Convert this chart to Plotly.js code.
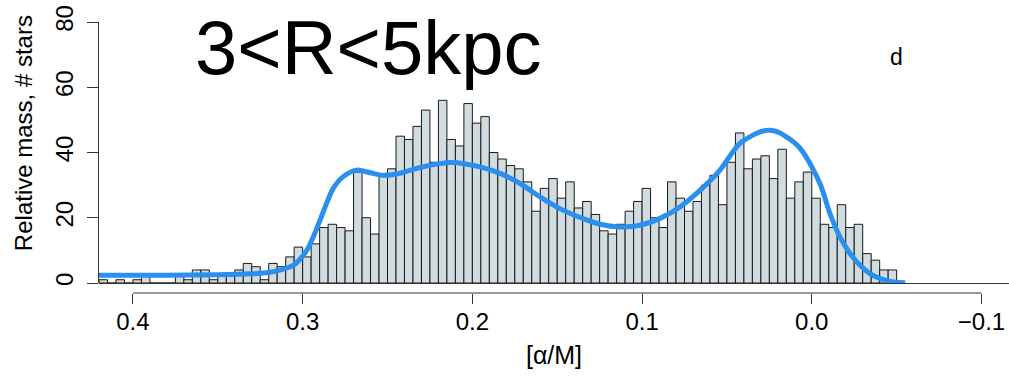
<!DOCTYPE html>
<html>
<head>
<meta charset="utf-8">
<script src="https://cdn.plot.ly/plotly-3.0.1.min.js"></script>
<style>html,body{margin:0;padding:0;background:#fff;}#chart{width:1009px;height:379px;}</style>
</head>
<body>
<div id="chart"></div>
<script>
// Histogram bins: first bin starts at 0.42 and bins go toward lower [α/M]
const binStart = 0.42;
const binWidth = 0.005;
const binHeights = [1,0,1,0,1,2,0,0,0,2,1,4,4,1,2,2,4,6,5,1,6,
  5,8,11,8,12,17,18,17,16,34,20,15,33,35,45,44,48,53,37,56,44,42,55,49,51,40,38,36,35,31,22,29,32,26,31,23,25,21,16,15,18,22,25,29,20,
  17,31,26,22,25,30,33,24,37,46,35,38,39,32,41,26,31,34,26,18,17,24,17,18,9,7,4,4];

// Smooth density curve (blue)
const curveX = [0.42,0.38,0.35,0.33,0.32,0.313,0.305,0.2976,0.2937,0.2898,0.2859,0.282,0.2761,0.2682,0.2603,0.2525,0.2446,0.2309,0.2132,0.2034,0.1955,0.1837,0.1719,0.1602,0.1484,0.1366,0.1248,0.1131,0.1013,0.0894,0.0777,0.0659,0.0541,0.0424,0.0305,0.0246,0.0187,0.0069,-0.0048,-0.0106,-0.0165,-0.0224,-0.0283,-0.0342,-0.0401,-0.046,-0.055];
const curveY = [2.4,2.4,2.5,2.8,3.2,4,5.6,10,14.2,19.2,24.4,29,32.6,34.6,33.8,33,33.4,35.4,36.9,36.4,35.6,33.6,30.5,26.4,22.8,20.1,18,17.2,17.7,19.8,23.3,28.4,34.6,42.8,46.3,46.8,46,41.3,30.5,21.4,14.2,9.1,5.5,2.9,1.4,0.5,0.1];

const xTickVals = [0.4,0.3,0.2,0.1,0.0,-0.1];
const xTickText = ["0.4","0.3","0.2","0.1","0.0","\u22120.1"];
const yTickVals = [0,20,40,60,80];

const barX = binHeights.map((_, i) => binStart - binWidth * (i + 0.5));

const font = "Liberation Sans, Arial, Helvetica, sans-serif";

const data = [
  {
    type: "bar",
    x: barX,
    y: binHeights,
    width: binWidth,
    marker: {color: "#d0dce0", line: {color: "#1a1a1a", width: 1}},
    hoverinfo: "x+y"
  },
  {
    type: "scatter",
    mode: "lines",
    x: curveX,
    y: curveY,
    line: {color: "#2b8ff0", width: 5, shape: "spline", smoothing: 0.8},
    hoverinfo: "skip"
  }
];

const layout = {
  width: 1009,
  height: 379,
  margin: {l: 99, r: 0, t: 22, b: 86},
  paper_bgcolor: "#fff",
  plot_bgcolor: "#fff",
  showlegend: false,
  font: {family: font, color: "#000", size: 24},
  xaxis: {
    range: [0.42, -0.1162],
    anchor: "free",
    position: 0,
    showline: false,
    showgrid: false,
    zeroline: false,
    tickmode: "array",
    tickvals: xTickVals,
    ticktext: xTickText,
    ticks: "outside",
    ticklen: 10,
    tickwidth: 1,
    tickcolor: "#333",
    ticklabelstandoff: -3,
    tickfont: {size: 24, family: font},
    title: {text: "[\u03b1/M]", font: {size: 25, family: font}, standoff: 12}
  },
  yaxis: {
    domain: [0.0369, 1],
    range: [0, 80],
    showline: true,
    linecolor: "#333",
    linewidth: 1,
    showgrid: false,
    zeroline: true,
    zerolinecolor: "#333",
    zerolinewidth: 1,
    tickmode: "array",
    tickvals: yTickVals,
    ticks: "outside",
    ticklen: 11,
    tickwidth: 1,
    tickcolor: "#333",
    tickangle: -90,
    ticklabelstandoff: 4,
    tickfont: {size: 24, family: font}
  },
  shapes: [
    {type: "line", xref: "x", yref: "paper", x0: 0.4, x1: -0.1, y0: 0, y1: 0, line: {color: "#333", width: 1}}
  ],
  annotations: [
    {text: "Relative mass, # stars", xref: "paper", yref: "paper", x: -0.0835, y: 0.59, xanchor: "center", yanchor: "middle", textangle: -90, showarrow: false, font: {size: 24, family: font, color: "#000"}},
    {text: "3<R<5kpc", xref: "paper", yref: "paper", x: 0.1033, y: 0.905, xanchor: "left", yanchor: "middle", showarrow: false, font: {size: 76, family: font, color: "#000"}},
    {text: "d", xref: "paper", yref: "paper", x: 0.876, y: 0.871, xanchor: "center", yanchor: "middle", showarrow: false, font: {size: 23, family: font, color: "#000"}}
  ],
  bargap: 0
};

Plotly.newPlot("chart", data, layout, {displayModeBar: false, staticPlot: true});
</script>
</body>
</html>
